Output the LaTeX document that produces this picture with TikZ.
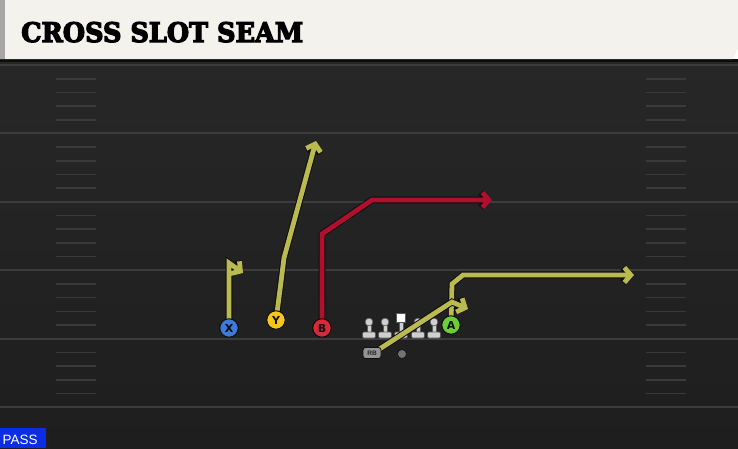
\documentclass[tikz,border=0pt]{standalone}
\usepackage{fontspec}
\setmainfont{DejaVu Serif}
\setsansfont{Liberation Sans}
\newfontfamily\titlefont{DejaVu Serif}[BoldFeatures={FakeBold=4.5}]
\newfontfamily\playerfont{DejaVu Sans}
\usetikzlibrary{arrows.meta}
\definecolor{cream}{HTML}{F4F2EC}
\definecolor{fieldtop}{HTML}{272727}
\definecolor{fieldbot}{HTML}{1E1E1E}
\definecolor{yardline}{HTML}{3C3C3C}
\definecolor{hashcol}{HTML}{3A3A3A}
\definecolor{routeyel}{HTML}{BABA50}
\definecolor{routered}{HTML}{B0102E}
\definecolor{outl}{HTML}{0E0E0E}
\definecolor{xblue}{HTML}{3D7BDA}
\definecolor{yyel}{HTML}{F6C619}
\definecolor{bred}{HTML}{D8283A}
\definecolor{agreen}{HTML}{6CCD3A}
\definecolor{linecol}{HTML}{CFCFCF}
\definecolor{passblue}{HTML}{0B2DE6}
\pgfdeclarelayer{bg}
\pgfdeclarelayer{mid}
\pgfsetlayers{bg,mid,main}
\tikzset{
  routeout/.style={draw=outl, line width=6.8pt, line join=miter, -{Straight Barb[length=6.5pt,width=15pt]}},
  routein/.style={draw=#1, line width=4.8pt, line join=miter, -{Straight Barb[length=6.5pt,width=15pt]}},
  player/.style={circle, draw=outl, line width=1pt, fill=#1, minimum size=18.5pt, inner sep=0pt,
    font=\playerfont\bfseries\fontsize{11}{11}\selectfont, text=outl},
  hash/.style={draw=hashcol, line width=1.6pt},
  yard/.style={draw=yardline, line width=2pt},
  lman/.style={fill=linecol, draw=black!65, line width=0.6pt},
}
\newcommand{\routepath}[2]{\draw[routeout] #2; \draw[routein=#1] #2;}
\begin{document}
\begin{tikzpicture}[x=1pt,y=-1pt]
\useasboundingbox (0,0) rectangle (738,448);
\begin{pgfonlayer}{bg}
  % field
  \shade[top color=fieldtop, bottom color=fieldbot] (0,59) rectangle (738,448);
  \fill[black!95] (0,59) rectangle (738,62);
  % yard lines
  \foreach \y in {65,133.4,201.8,270.2,338.6,407} {
    \draw[yard] (0,\y) -- (738,\y);
  }
  % hash marks
  \foreach \y in {65,133.4,201.8,270.2,338.6} {
    \foreach \k in {1,2,3,4} {
      \draw[hash] (56,\y+13.7*\k) -- (96,\y+13.7*\k);
      \draw[hash] (646,\y+13.7*\k) -- (686,\y+13.7*\k);
    }
  }
  % title bar
  \fill[cream] (0,0) -- (738,0) -- (738,48) -- (733,59) -- (0,59) -- cycle;
  \fill[black!35] (0,0) rectangle (5,59);
  % linemen
  \foreach \x in {369,385,418,434} {
    \draw[lman] (\x-2.2,322) rectangle (\x+2.2,333);
    \draw[lman] (\x,322) circle (3.9);
    \draw[lman, rounded corners=1.2pt] (\x-6.5,332) rectangle (\x+6.5,338);
  }
  \draw[lman] (398.8,321) rectangle (403.2,333);
  \draw[fill=white, draw=black!65, line width=0.6pt] (396.5,313.5) rectangle (405.5,322.5);
  \draw[lman, rounded corners=1.2pt] (394.5,332) rectangle (407.5,338);
\end{pgfonlayer}

\node[anchor=base west, inner sep=0pt] (title) at (21,42)
  {\resizebox{282pt}{20pt}{\titlefont\bfseries CROSS SLOT SEAM}};

\node[player=xblue] (X) at (229,328) {X};
\node[player=yyel] (Y) at (276,320) {Y};
\node[player=bred] (B) at (322,328) {B};
\node[player=agreen] (A) at (451,325) {A};
\node[draw=outl, line width=0.8pt, fill=black!42, rounded corners=2.5pt, minimum width=18pt,
  minimum height=11pt, inner sep=0pt, font=\sffamily\bfseries\fontsize{6.5}{6.5}\selectfont, text=black!85] (RB) at (372,353) {RB};
\node[circle, fill=black!55, draw=outl, line width=0.6pt, minimum size=9pt, inner sep=0pt] (QB) at (402,354) {};

\coordinate (X1) at (229,263);
\coordinate (X2) at (243,273);
\coordinate (Y1) at (284,258);
\coordinate (Y2) at (316,141);
\coordinate (B1) at (322,234);
\coordinate (B2) at (372,200);
\coordinate (B3) at (492,200);
\coordinate (A1) at (452,284);
\coordinate (A2) at (463,275);
\coordinate (A3) at (634,275);
\coordinate (R0) at (378,350);
\coordinate (R1) at (452,302);
\coordinate (R2) at (468,309);

\begin{pgfonlayer}{mid}
  \routepath{routeyel}{(X.center) -- (X1) -- (X2)}
  \routepath{routeyel}{(Y.center) .. controls (280,290) .. (Y1) -- (Y2)}
  \routepath{routered}{(B.center) -- (B1) -- (B2) -- (B3)}
  \routepath{routeyel}{(A.center) -- (A1) -- (A2) -- (A3)}
  \routepath{routeyel}{(R0) -- (R1) -- (R2)}
\end{pgfonlayer}

\fill[passblue] (0,428) rectangle (46,448);
\node[anchor=base west, inner sep=0pt, text=white, font=\sffamily\fontsize{13.5}{13.5}\selectfont] (pass) at (2.5,444) {PASS};
\end{tikzpicture}
\end{document}
